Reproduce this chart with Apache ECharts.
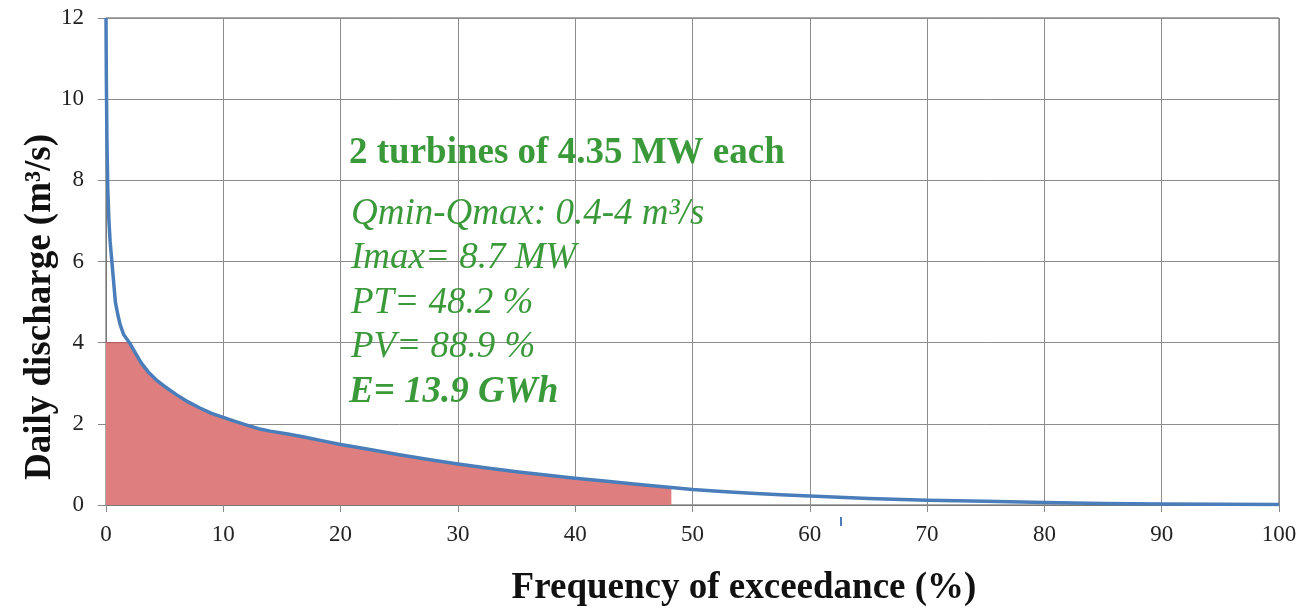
<!DOCTYPE html>
<html>
<head>
<meta charset="utf-8">
<script src="https://cdn.jsdelivr.net/npm/echarts@6/dist/echarts.min.js"></script>
<style>
html,body{margin:0;padding:0;background:#fff;}
#chart{width:1311px;height:609px;}
</style>
</head>
<body>
<div id="chart"></div>
<script>
// Flow duration curve values (frequency of exceedance %, daily discharge m3/s)
const freq      = [0, 0.03, 0.08, 0.15, 0.25, 0.35, 0.5, 0.65, 0.8, 1.0, 1.2, 1.5, 2.0, 2.5, 3.0, 3.6, 4.3, 5, 6, 7, 8, 9, 10, 11, 12, 13, 14, 15.5, 17, 18.5, 20, 22.5, 25, 27.5, 30, 32.5, 35, 37.5, 40, 42.5, 45, 48.2, 50, 52.5, 55, 57.5, 60, 65, 70, 75, 80, 85, 90, 95, 100];
const discharge = [12, 10.5, 9.0, 7.8, 7.0, 6.5, 6.0, 5.5, 5.0, 4.7, 4.45, 4.2, 4.0, 3.75, 3.5, 3.28, 3.08, 2.92, 2.72, 2.54, 2.39, 2.26, 2.16, 2.06, 1.97, 1.88, 1.82, 1.75, 1.67, 1.58, 1.49, 1.37, 1.24, 1.12, 1.01, 0.91, 0.82, 0.74, 0.66, 0.59, 0.52, 0.43, 0.38, 0.33, 0.29, 0.25, 0.22, 0.16, 0.12, 0.09, 0.06, 0.04, 0.025, 0.018, 0.015];
const qMax = 4;          // turbine max flow
const ptLimit = 48.2;    // PT %
const xTicks = [0,10,20,30,40,50,60,70,80,90,100];
const yTicks = [0,2,4,6,8,10,12];
const xName = 'Frequency of exceedance (%)';
const yName = 'Daily discharge (m\u00b3/s)';
const infoTitle = '2 turbines of 4.35 MW each';
const infoLines = ['Qmin-Qmax: 0.4-4 m\u00b3/s', 'Imax= 8.7 MW', 'PT= 48.2 %', 'PV= 88.9 %'];
const infoLast = 'E= 13.9 GWh';

const curve = freq.map((f, i) => [f, discharge[i]]);
const fill = freq.map((f, i) => [f, Math.min(discharge[i], qMax)]).filter(p => p[0] <= ptLimit);

const green = '#3a9a3a';
const serif = '"Liberation Serif","DejaVu Serif",serif';

const chart = echarts.init(document.getElementById('chart'), null, {renderer:'canvas'});
chart.setOption({
  animation: false,
  backgroundColor: '#fff',
  grid: {left:106, right:32, top:18, bottom:104, containLabel:false, outerBoundsMode:'none',
         show:true, borderColor:'#555', borderWidth:1},
  xAxis: {
    type:'value', min:xTicks[0], max:xTicks[xTicks.length-1], interval:10,
    axisLine:{show:true, onZero:false, lineStyle:{color:'#777'}},
    axisTick:{show:true, length:7, lineStyle:{color:'#888'}},
    axisLabel:{fontFamily:serif, fontSize:23, color:'#222', margin:18},
    splitLine:{show:true, lineStyle:{color:'#8c8c8c', width:1}}
  },
  yAxis: {
    type:'value', min:yTicks[0], max:yTicks[yTicks.length-1], interval:2,
    axisLine:{show:true, lineStyle:{color:'#777'}},
    axisTick:{show:true, length:8, lineStyle:{color:'#888'}},
    axisLabel:{fontFamily:serif, fontSize:23, color:'#222', margin:22},
    splitLine:{show:true, lineStyle:{color:'#8c8c8c', width:1}}
  },
  series: [
    {
      type:'line', data:fill, showSymbol:false, symbol:'none',
      lineStyle:{width:1, color:'#b85a5a'},
      areaStyle:{color:'#df7e7e', opacity:1, origin:'start'},
      z:1
    },
    {
      type:'line', data:curve, showSymbol:false, symbol:'none',
      lineStyle:{width:3.5, color:'#4a7ebb', join:'round'},
      z:3
    }
  ],
  graphic: [
    {type:'text', left:349, top:135, z:10, style:{text:infoTitle, fontFamily:serif, fontWeight:'bold', fontSize:37, fill:green}},
    {type:'text', left:351, top:192, z:10, style:{text:infoLines.join('\n'), fontFamily:serif, fontStyle:'italic', fontSize:37, lineHeight:44.5, fill:green}},
    {type:'text', left:349, top:374, z:10, style:{text:infoLast, fontFamily:serif, fontStyle:'italic', fontWeight:'bold', fontSize:37, fill:green}},
    {type:'text', x:744, y:588, z:10, style:{text:xName, fontFamily:serif, fontWeight:'bold', fontSize:37, fill:'#111', textAlign:'center', textVerticalAlign:'middle'}},
    {type:'text', x:40, y:307, rotation:Math.PI/2, z:10, style:{text:yName, fontFamily:serif, fontWeight:'bold', fontSize:37, fill:'#111', textAlign:'center', textVerticalAlign:'middle'}},
    {type:'rect', shape:{x:840, y:517, width:2, height:9}, style:{fill:'#4a7ebb'}, z:10}
  ]
});
</script>
</body>
</html>
